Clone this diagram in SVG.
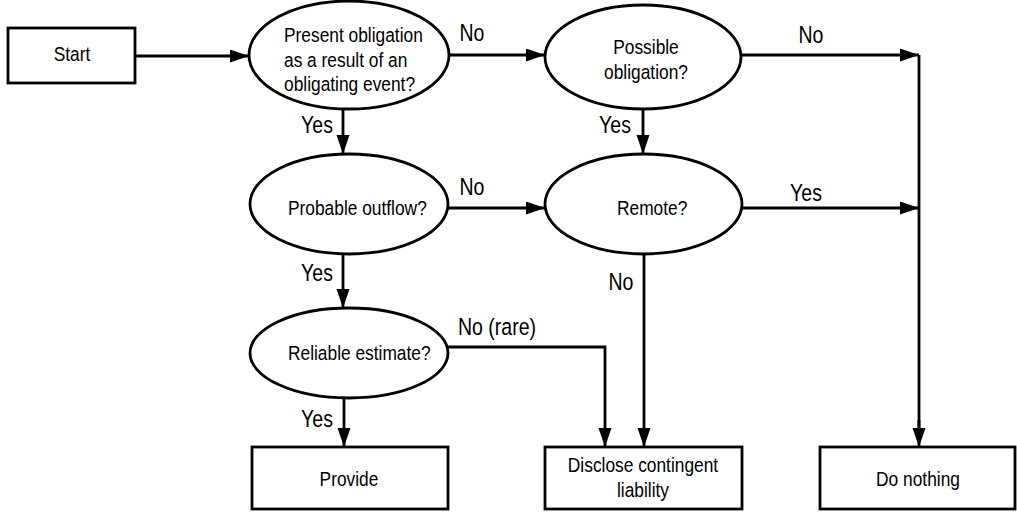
<svg xmlns="http://www.w3.org/2000/svg" width="1017" height="518" viewBox="0 0 1017 518">
  <style>
    .box { fill: #ffffff; stroke: #000000; stroke-width: 2.8; }
    .dec { fill: #ffffff; stroke: #000000; stroke-width: 2.8; }
    .edge { fill: none; stroke: #000000; stroke-width: 2.8; marker-end: url(#arrow); }
    .line { fill: none; stroke: #000000; stroke-width: 2.8; }
    text { font-family: "Liberation Sans", Arial, Helvetica, sans-serif; fill: #000000; }
    .t { font-size: 19.5px; }
    .lbl { font-size: 23.5px; }
  </style>
  <defs>
    <marker id="arrow" markerUnits="userSpaceOnUse" markerWidth="20" markerHeight="14" refX="19" refY="6.5" orient="auto">
      <path d="M0,0 L19,6.5 L0,13 Z" fill="#000000"/>
    </marker>
  </defs>

  <rect width="1017" height="518" fill="#ffffff"/>

  <!-- connectors and their labels -->
  <g id="connectors">
    <path class="edge" d="M135,56 H249"/>
    <path class="edge" d="M449,55 H545"/>
    <path class="edge" d="M741,55 H919"/>
    <path class="line" d="M919,55 V430"/>
    <path class="edge" d="M919,420 V447"/>
    <path class="edge" d="M343,109 V154"/>
    <path class="edge" d="M643,109 V154"/>
    <path class="edge" d="M448,208 H545"/>
    <path class="edge" d="M742,208 H919"/>
    <path class="edge" d="M343,254 V308"/>
    <path class="edge" d="M644,254 V447"/>
    <path class="edge" d="M448,347 H605 V447"/>
    <path class="edge" d="M344,398 V447"/>

    <text class="lbl" transform="translate(472,41) scale(0.83,1)" text-anchor="middle">No</text>
    <text class="lbl" transform="translate(811,43) scale(0.83,1)" text-anchor="middle">No</text>
    <text class="lbl" transform="translate(317,133) scale(0.83,1)" text-anchor="middle">Yes</text>
    <text class="lbl" transform="translate(615,133) scale(0.83,1)" text-anchor="middle">Yes</text>
    <text class="lbl" transform="translate(472,195) scale(0.83,1)" text-anchor="middle">No</text>
    <text class="lbl" transform="translate(806,201) scale(0.83,1)" text-anchor="middle">Yes</text>
    <text class="lbl" transform="translate(317,281) scale(0.83,1)" text-anchor="middle">Yes</text>
    <text class="lbl" transform="translate(621,290) scale(0.83,1)" text-anchor="middle">No</text>
    <text class="lbl" transform="translate(458,335) scale(0.83,1)">No (rare)</text>
    <text class="lbl" transform="translate(317,427) scale(0.83,1)" text-anchor="middle">Yes</text>
  </g>

  <!-- start -->
  <g id="start">
    <rect class="box" x="8" y="28" width="127" height="55"/>
    <text class="t" transform="translate(72,61) scale(0.89,1)" text-anchor="middle">Start</text>
  </g>

  <!-- decisions -->
  <g id="present-obligation">
    <ellipse class="dec" cx="349" cy="55" rx="100" ry="54"/>
    <text class="t" transform="translate(284,41.5) scale(0.89,1)">Present obligation</text>
    <text class="t" transform="translate(284,66.5) scale(0.89,1)">as a result of an</text>
    <text class="t" transform="translate(284,91) scale(0.89,1)">obligating event?</text>
  </g>

  <g id="possible-obligation">
    <ellipse class="dec" cx="643" cy="57" rx="98" ry="52"/>
    <text class="t" transform="translate(646,54) scale(0.89,1)" text-anchor="middle">Possible</text>
    <text class="t" transform="translate(646,79) scale(0.89,1)" text-anchor="middle">obligation?</text>
  </g>

  <g id="probable-outflow">
    <ellipse class="dec" cx="349" cy="204" rx="99" ry="50"/>
    <text class="t" transform="translate(288,215) scale(0.89,1)">Probable outflow?</text>
  </g>

  <g id="remote">
    <ellipse class="dec" cx="643.5" cy="204" rx="98.5" ry="50"/>
    <text class="t" transform="translate(617,215) scale(0.89,1)">Remote?</text>
  </g>

  <g id="reliable-estimate">
    <ellipse class="dec" cx="349" cy="353" rx="99" ry="45"/>
    <text class="t" transform="translate(288,360) scale(0.89,1)">Reliable estimate?</text>
  </g>

  <!-- outcomes -->
  <g id="provide">
    <rect class="box" x="252" y="447" width="196" height="62"/>
    <text class="t" transform="translate(349,486) scale(0.89,1)" text-anchor="middle">Provide</text>
  </g>

  <g id="disclose">
    <rect class="box" x="545" y="447" width="197" height="62"/>
    <text class="t" transform="translate(643,472) scale(0.89,1)" text-anchor="middle">Disclose contingent</text>
    <text class="t" transform="translate(643,497) scale(0.89,1)" text-anchor="middle">liability</text>
  </g>

  <g id="do-nothing">
    <rect class="box" x="820" y="447" width="195" height="62"/>
    <text class="t" transform="translate(918,486) scale(0.89,1)" text-anchor="middle">Do nothing</text>
  </g>
</svg>
